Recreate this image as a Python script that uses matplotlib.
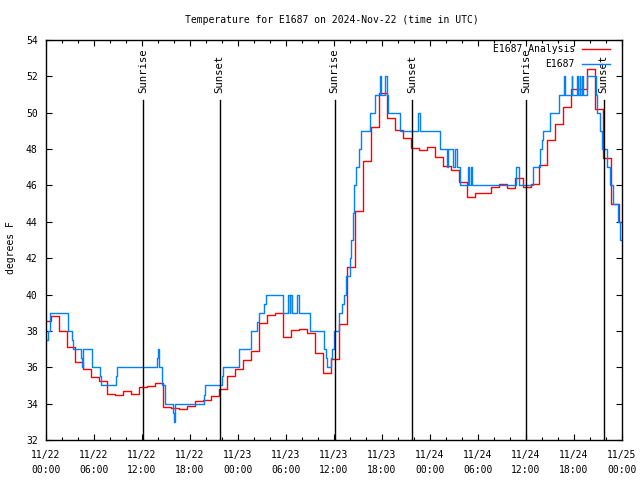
import pandas as pd
import matplotlib
matplotlib.use('Agg')
import matplotlib.pyplot as plt
import matplotlib.dates as mdates
import matplotlib.transforms as mtransforms

start = pd.Timestamp('2024-11-22 00:00')
end = pd.Timestamp('2024-11-25 00:00')

# hourly analysis values (each starts at hh:36), first value is the one at 00:00
analysis_first = 38.56
analysis_temps = [38.82, 37.98, 37.13, 36.29, 35.89, 35.45, 35.23, 34.51, 34.46, 34.68,
                  34.51, 34.90, 34.96, 35.12, 33.80, 33.75, 33.69, 33.86, 34.15, 34.20,
                  34.40, 34.79, 35.50, 35.90, 36.40, 36.90, 38.45, 38.90, 39.00, 37.68,
                  38.05, 38.10, 37.90, 36.77, 35.67, 36.44, 38.38, 41.50, 44.61, 47.35,
                  49.23, 51.07, 49.70, 49.05, 48.60, 48.05, 47.95, 48.10, 47.55, 47.09,
                  46.85, 46.21, 45.38, 45.57, 45.60, 45.90, 46.06, 45.84, 46.39, 45.94,
                  46.08, 47.10, 48.50, 49.36, 50.33, 51.29, 51.30, 52.39, 50.19, 47.50,
                  44.98, 44.00]

# station observations: hours after start, temperature
obs_hours = [0.0, 0.2, 0.45, 2.7, 3.25, 3.33, 4.37, 4.45, 4.62, 5.7,
             6.7, 6.83, 8.79, 8.87, 13.87, 13.95, 14.08, 14.5, 14.83, 15.9,
             16.0, 16.1, 19.7, 19.83, 22.0, 22.08, 24.1, 25.6, 26.4, 26.6,
             27.3, 27.5, 29.6, 30.3, 30.45, 30.55, 30.75, 31.4, 31.6, 33.0,
             34.75, 35.0, 35.1, 35.65, 35.8, 36.05, 36.6, 37.0, 37.3, 37.5,
             37.95, 38.1, 38.4, 38.55, 38.8, 39.1, 39.4, 40.45, 41.15, 41.7,
             41.9, 42.4, 42.6, 42.8, 44.2, 46.5, 46.7, 49.2, 50.1, 50.3,
             50.9, 51.1, 51.4, 51.7, 52.7, 52.9, 53.1, 53.3, 58.7, 59.1,
             60.9, 61.8, 62.0, 62.1, 62.95, 64.1, 64.8, 64.9, 65.7, 65.8,
             66.4, 66.5, 66.7, 66.8, 67.0, 67.1, 67.6, 68.7, 68.9, 69.2,
             69.5, 70.1, 70.45, 70.9, 71.45, 71.7]
obs_temps = [37.5, 38.0, 39.0, 38.0, 37.5, 37.0, 36.5, 36.0, 37.0, 36.0,
             35.5, 35.0, 35.5, 36.0, 36.5, 37.0, 36.0, 35.0, 34.0, 33.5,
             33.0, 34.0, 34.5, 35.0, 35.5, 36.0, 37.0, 38.0, 38.5, 39.0,
             39.5, 40.0, 39.0, 40.0, 39.0, 40.0, 39.0, 40.0, 39.0, 38.0,
             37.0, 36.5, 36.0, 36.5, 37.0, 38.0, 39.0, 39.5, 40.0, 41.0,
             42.0, 43.0, 44.5, 46.0, 47.0, 48.0, 49.0, 50.0, 51.0, 52.0,
             51.0, 52.0, 51.0, 50.0, 49.0, 50.0, 49.0, 48.0, 47.0, 48.0,
             47.0, 48.0, 47.0, 46.0, 47.0, 46.0, 47.0, 46.0, 47.0, 46.0,
             47.0, 48.0, 48.5, 49.0, 50.0, 51.0, 52.0, 51.0, 52.0, 51.0,
             52.0, 51.0, 52.0, 51.0, 52.0, 51.0, 52.0, 51.0, 50.0, 49.0,
             48.0, 47.0, 46.0, 45.0, 44.0, 43.0]

sun_times = ['2024-11-22 12:06', '2024-11-22 21:42', '2024-11-23 12:04',
             '2024-11-23 21:45', '2024-11-24 12:02', '2024-11-24 21:42']
sun_labels = ['Sunrise', 'Sunset', 'Sunrise', 'Sunset', 'Sunrise', 'Sunset']

mono = 'DejaVu Sans Mono'
fs = 7

# build the step series
an_times = [start] + list(pd.date_range('2024-11-22 00:36', periods=len(analysis_temps), freq='h')) + [end]
an_vals = [analysis_first] + analysis_temps + [analysis_temps[-1]]
ob_times = list(start + pd.to_timedelta(obs_hours, unit='h')) + [end]
ob_vals = obs_temps + [obs_temps[-1]]

fig = plt.figure(figsize=(6.4, 4.8), dpi=100)
ax = fig.add_axes([46 / 640, 40 / 480, 576 / 640, 400 / 480])

ax.step(an_times, an_vals, where='post', color='#ff0000', lw=1.0, label='E1687 Analysis')
ax.step(ob_times, ob_vals, where='post', color='#0080ff', lw=1.0, label='E1687')

trans = mtransforms.blended_transform_factory(ax.transData, ax.transAxes)
for t, lab in zip(sun_times, sun_labels):
    tt = pd.Timestamp(t)
    ax.plot([tt, tt], [0, 0.85], color='black', lw=1.0, transform=trans)
    ax.text(tt, 0.868, lab, rotation=90, ha='center', va='bottom', transform=trans,
            family=mono, fontsize=7.7)

ax.set_xlim(start, end)
ax.set_ylim(32, 54)
ax.set_yticks(range(32, 55, 2))

ax.xaxis.set_major_locator(mdates.HourLocator(byhour=range(0, 24, 6)))
ax.xaxis.set_minor_locator(mdates.HourLocator(byhour=range(0, 24, 2)))
ax.xaxis.set_major_formatter(mdates.DateFormatter('%m/%d\n%H:%M'))

ax.tick_params(which='both', direction='in', top=True, right=True, labelsize=fs, width=0.8)
ax.tick_params(which='major', length=4)
ax.tick_params(which='minor', length=2)
ax.tick_params(axis='x', pad=7)
ax.tick_params(axis='y', pad=6)
for lab in ax.get_xticklabels() + ax.get_yticklabels():
    lab.set_family(mono)
    lab.set_linespacing(1.65)
for sp in ax.spines.values():
    sp.set_linewidth(1.0)

fig.text(332 / 640, 1 - 20 / 480, 'Temperature for E1687 on 2024-Nov-22 (time in UTC)',
         ha='center', va='center', family=mono, fontsize=fs)
fig.text(11 / 640, 0.485, 'degrees F', rotation=90, ha='center', va='center',
         family=mono, fontsize=fs)

leg = ax.legend(loc='upper right', bbox_to_anchor=(0.979, 0.99), frameon=False,
                markerfirst=False, handlelength=2.9, handletextpad=0.7,
                labelspacing=0.55, borderpad=0, borderaxespad=0,
                prop={'family': mono, 'size': fs})

fig.savefig('out.png', dpi=100)
